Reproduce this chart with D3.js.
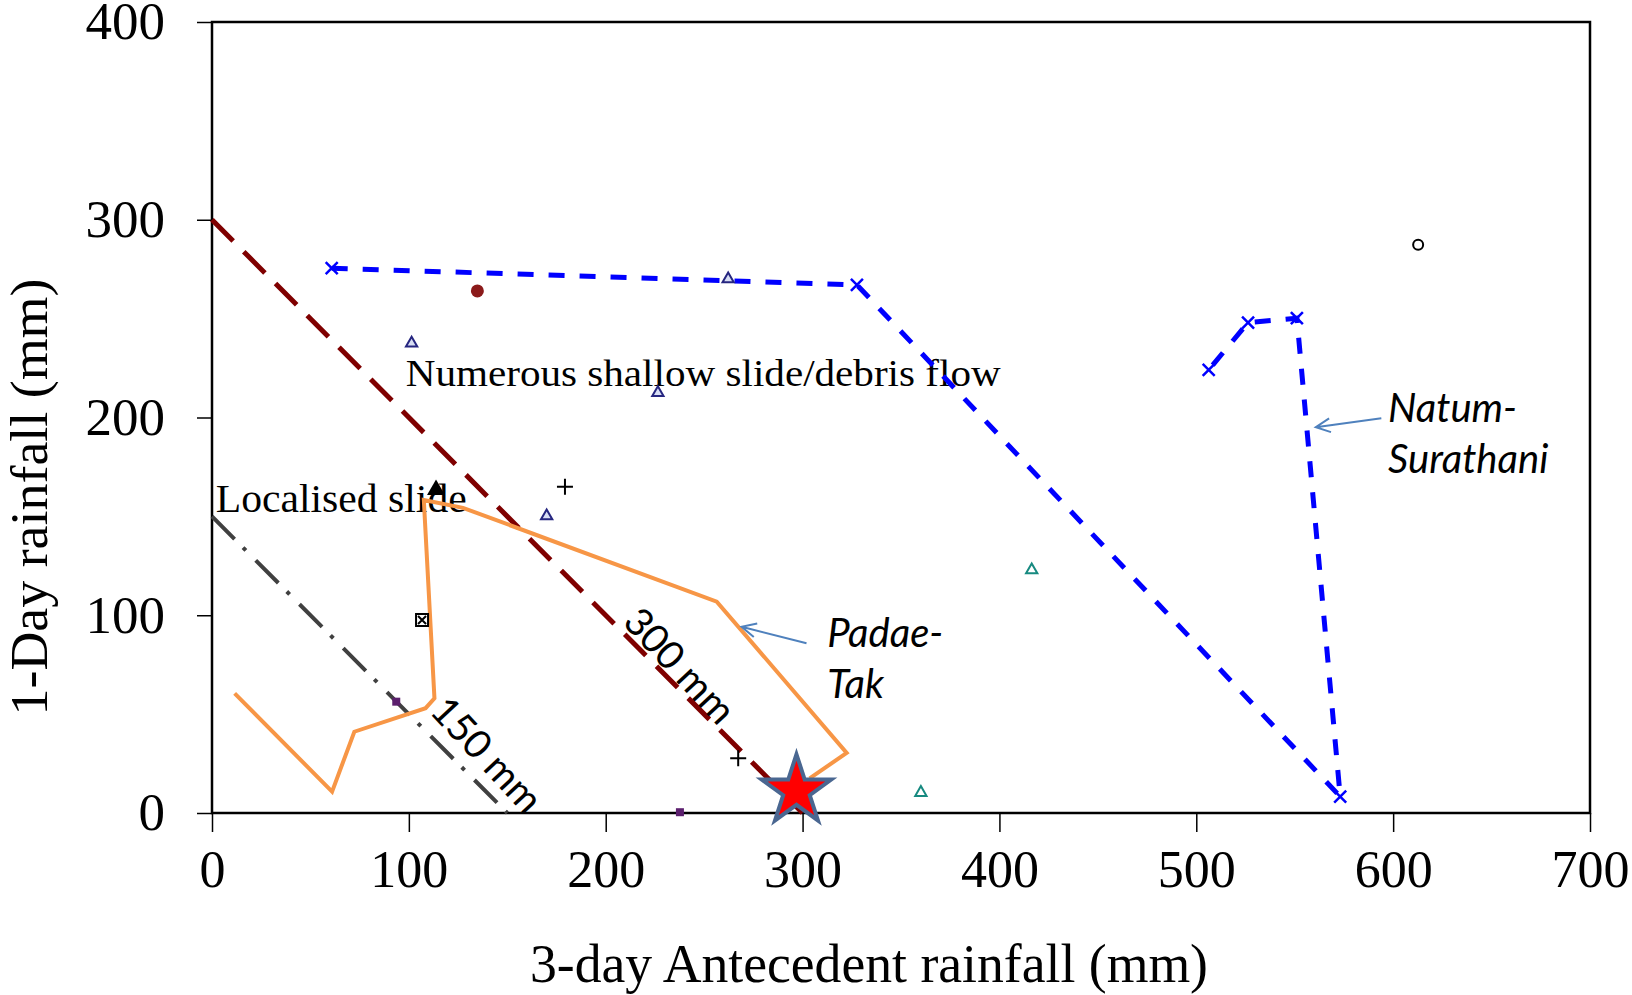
<!DOCTYPE html>
<html>
<head>
<meta charset="utf-8">
<script src="https://d3js.org/d3.v7.min.js"></script>
<style>
    body { margin: 0; background: #fff; }
    .axis path { display: none; }
    .axis line { stroke: #000; stroke-width: 1.5; }
    .axis text { font-family: "Liberation Serif", "Times New Roman", serif; fill: #000; }
    .serif { font-family: "Liberation Serif", "Times New Roman", serif; fill: #000; }
    .sans { font-family: Lato, "Open Sans", sans-serif; fill: #000; }
</style>
</head>
<body>
<div id="chart"></div>
<script>
    // x = 3-day antecedent rainfall (mm), y = 1-day rainfall (mm)
    var natumX = [60.8, 327.6, 573.1, 551.1, 526.3, 506.3];
    var natumY = [275.5, 267.1, 8.3, 250.2, 248.0, 224.1];

    var padaeX = [11.5, 61.0, 72.3, 108.5, 113.0, 107.6, 127.5, 256.4, 322.4, 303.6];
    var padaeY = [60.5, 10.8, 41.1, 53.0, 58.0, 158.3, 154.3, 106.9, 30.4, 17.5];

    var navyTriX = [101.4, 226.5, 170.0, 262.2];
    var navyTriY = [237.6, 212.5, 150.2, 270.0];
    var tealTriX = [416.4, 360.1];
    var tealTriY = [122.9, 10.3];
    var redDotX = [134.8], redDotY = [264.0];
    var openCircX = [612.7], openCircY = [287.3];
    var plusX = [179.3, 267.3], plusY = [165.0, 27.7];
    var blackTriX = [113.8], blackTriY = [163.4];
    var boxXX = [106.7], boxXY = [97.6];
    var purpleX = [93.6, 237.7], purpleY = [56.3, 0.4];
    var starX = [296.9], starY = [11.2];

    var thresholds = [300, 150];
    var thresholdLabels = ["300 mm", "150 mm"];

    var xTicks = [0, 100, 200, 300, 400, 500, 600, 700];
    var yTicks = [0, 100, 200, 300, 400];

    var w = 1632, h = 995;
    var margin = {top: 22, right: 42, bottom: 182, left: 212};

    var xScale = d3.scaleLinear().domain([0, 700]).range([margin.left, w - margin.right]);
    var yScale = d3.scaleLinear().domain([0, 400]).range([h - margin.bottom, margin.top]);

    var svg = d3.select("#chart").append("svg").attr("width", w).attr("height", h);

    function zip(xs, ys) { return xs.map(function(x, i) { return [x, ys[i]]; }); }

    // axes
    var xAxis = d3.axisBottom(xScale).tickValues(xTicks).tickSize(19).tickSizeOuter(0).tickPadding(18);
    var yAxis = d3.axisLeft(yScale).tickValues(yTicks).tickSize(15).tickSizeOuter(0).tickPadding(32);

    svg.append("g").attr("class", "axis")
        .attr("transform", "translate(0," + yScale(0) + ")")
        .call(xAxis)
        .selectAll("text").style("font-size", "52px");

    svg.append("g").attr("class", "axis")
        .attr("transform", "translate(" + xScale(0) + ",0)")
        .call(yAxis)
        .selectAll("text").style("font-size", "53px");

    // frame
    svg.append("rect")
        .attr("x", xScale(0)).attr("y", yScale(400))
        .attr("width", xScale(700) - xScale(0))
        .attr("height", yScale(0) - yScale(400))
        .style("fill", "none").style("stroke", "#000").style("stroke-width", 2.5);

    // axis titles
    svg.append("text").attr("class", "serif")
        .attr("x", 869).attr("y", 982)
        .attr("text-anchor", "middle")
        .attr("textLength", 678).attr("lengthAdjust", "spacingAndGlyphs")
        .style("font-size", "54px")
        .text("3-day Antecedent rainfall (mm)");

    svg.append("text").attr("class", "serif")
        .attr("transform", "translate(47,497) rotate(-90)")
        .attr("text-anchor", "middle")
        .attr("textLength", 437).attr("lengthAdjust", "spacingAndGlyphs")
        .style("font-size", "53px")
        .text("1-Day rainfall (mm)");

    // annotation text (under the lines)
    svg.append("text").attr("class", "serif")
        .attr("x", xScale(98.4)).attr("y", yScale(216.0))
        .attr("textLength", 595).attr("lengthAdjust", "spacingAndGlyphs")
        .style("font-size", "38px")
        .text("Numerous shallow slide/debris flow");

    svg.append("text").attr("class", "serif")
        .attr("x", xScale(1.9)).attr("y", yScale(152.4))
        .attr("textLength", 251).attr("lengthAdjust", "spacingAndGlyphs")
        .style("font-size", "40px")
        .text("Localised slide");

    // threshold lines x + y = t
    var tStyles = [
        {color: "#7f0000", dash: "30,15", width: 5},
        {color: "#404040", dash: "32,12,4,14", width: 4}
    ];
    thresholds.forEach(function(t, i) {
        svg.append("line")
            .attr("x1", xScale(0)).attr("y1", yScale(t))
            .attr("x2", xScale(t)).attr("y2", yScale(0))
            .style("stroke", tStyles[i].color)
            .style("stroke-width", tStyles[i].width)
            .style("stroke-dasharray", tStyles[i].dash);
    });

    // threshold labels along the lines
    var tLabelPos = [[208, 96], [110, 51]];
    thresholdLabels.forEach(function(lab, i) {
        svg.append("text").attr("class", "sans")
            .attr("transform", "translate(" + xScale(tLabelPos[i][0]) + "," + yScale(tLabelPos[i][1]) + ") rotate(47)")
            .style("font-size", "39px")
            .text(lab);
    });

    var line = d3.line()
        .x(function(d) { return xScale(d[0]); })
        .y(function(d) { return yScale(d[1]); });

    // Padae-Tak
    svg.append("path").datum(zip(padaeX, padaeY))
        .attr("d", line)
        .style("fill", "none").style("stroke", "#f79646").style("stroke-width", 4)
        .style("stroke-linejoin", "miter");

    // Natum-Surathani
    svg.append("path").datum(zip(natumX, natumY))
        .attr("d", line)
        .style("fill", "none").style("stroke", "#0000ff").style("stroke-width", 5)
        .style("stroke-dasharray", "16,15");

    // natum x markers
    var xs = 6;
    svg.selectAll(".natx").data(zip(natumX, natumY)).enter().append("path")
        .attr("class", "natx")
        .attr("d", function(d) {
            var cx = xScale(d[0]), cy = yScale(d[1]);
            return "M" + (cx - xs) + "," + (cy - xs) + "L" + (cx + xs) + "," + (cy + xs) +
                   "M" + (cx - xs) + "," + (cy + xs) + "L" + (cx + xs) + "," + (cy - xs);
        })
        .style("stroke", "#0000ff").style("stroke-width", 2.5);

    // triangles
    var triSmall = d3.symbol().type(d3.symbolTriangle).size(55);
    svg.selectAll(".navytri").data(zip(navyTriX, navyTriY)).enter().append("path")
        .attr("class", "navytri")
        .attr("transform", function(d) { return "translate(" + xScale(d[0]) + "," + yScale(d[1]) + ")"; })
        .attr("d", triSmall)
        .style("fill", "#d8def4").style("stroke", "#262680").style("stroke-width", 2);

    svg.selectAll(".tealtri").data(zip(tealTriX, tealTriY)).enter().append("path")
        .attr("class", "tealtri")
        .attr("transform", function(d) { return "translate(" + xScale(d[0]) + "," + yScale(d[1]) + ")"; })
        .attr("d", triSmall)
        .style("fill", "#ffffff").style("stroke", "#178a80").style("stroke-width", 2);

    svg.selectAll(".blacktri").data(zip(blackTriX, blackTriY)).enter().append("path")
        .attr("class", "blacktri")
        .attr("transform", function(d) { return "translate(" + xScale(d[0]) + "," + yScale(d[1]) + ")"; })
        .attr("d", d3.symbol().type(d3.symbolTriangle).size(140))
        .style("fill", "#000");

    // circles
    svg.selectAll(".reddot").data(zip(redDotX, redDotY)).enter().append("circle")
        .attr("class", "reddot")
        .attr("cx", function(d) { return xScale(d[0]); })
        .attr("cy", function(d) { return yScale(d[1]); })
        .attr("r", 6.5).style("fill", "#8b1a1a");

    svg.selectAll(".opencirc").data(zip(openCircX, openCircY)).enter().append("circle")
        .attr("class", "opencirc")
        .attr("cx", function(d) { return xScale(d[0]); })
        .attr("cy", function(d) { return yScale(d[1]); })
        .attr("r", 5).style("fill", "#fff").style("stroke", "#000").style("stroke-width", 2);

    // plus markers
    var ps = 8;
    svg.selectAll(".plus").data(zip(plusX, plusY)).enter().append("path")
        .attr("class", "plus")
        .attr("d", function(d) {
            var cx = xScale(d[0]), cy = yScale(d[1]);
            return "M" + (cx - ps) + "," + cy + "L" + (cx + ps) + "," + cy +
                   "M" + cx + "," + (cy - ps) + "L" + cx + "," + (cy + ps);
        })
        .style("stroke", "#000").style("stroke-width", 2);

    // boxed x marker
    var bs = 6;
    var boxG = svg.selectAll(".boxx").data(zip(boxXX, boxXY)).enter().append("g")
        .attr("class", "boxx")
        .attr("transform", function(d) { return "translate(" + xScale(d[0]) + "," + yScale(d[1]) + ")"; });
    boxG.append("rect").attr("x", -bs).attr("y", -bs).attr("width", 2 * bs).attr("height", 2 * bs)
        .style("fill", "#fff").style("stroke", "#000").style("stroke-width", 2);
    boxG.append("path").attr("d", "M-4,-4L4,4M-4,4L4,-4").style("stroke", "#000").style("stroke-width", 2);

    // purple squares
    svg.selectAll(".purple").data(zip(purpleX, purpleY)).enter().append("rect")
        .attr("class", "purple")
        .attr("x", function(d) { return xScale(d[0]) - 4; })
        .attr("y", function(d) { return yScale(d[1]) - 4; })
        .attr("width", 8).attr("height", 8)
        .style("fill", "#5c1f6e");

    // star
    svg.selectAll(".star").data(zip(starX, starY)).enter().append("path")
        .attr("class", "star")
        .attr("transform", function(d) { return "translate(" + xScale(d[0]) + "," + yScale(d[1]) + ")"; })
        .attr("d", d3.symbol().type(d3.symbolStar).size(1500))
        .style("fill", "#ff0000").style("stroke", "#4a6791").style("stroke-width", 4)
        .style("stroke-linejoin", "miter");

    // series labels with arrows
    var seriesLabels = [
        {lines: ["Padae-", "Tak"], x: 312.5, y: 84.1, from: [302.0, 85.8], to: [269.0, 94.2]},
        {lines: ["Natum-", "Surathani"], x: 597.4, y: 197.9, from: [594.0, 199.6], to: [560.7, 195.1]}
    ];
    seriesLabels.forEach(function(s) {
        var t = svg.append("text").attr("class", "sans")
            .style("font-size", "40px").style("font-style", "italic");
        s.lines.forEach(function(l, i) {
            t.append("tspan").attr("x", xScale(s.x)).attr("y", yScale(s.y) + i * 51).text(l);
        });
        var x1 = xScale(s.from[0]), y1 = yScale(s.from[1]);
        var x2 = xScale(s.to[0]), y2 = yScale(s.to[1]);
        var ang = Math.atan2(y2 - y1, x2 - x1);
        var hl = 16, ha = 0.45;
        svg.append("path")
            .attr("d", "M" + x1 + "," + y1 + "L" + x2 + "," + y2 +
                "M" + (x2 - hl * Math.cos(ang - ha)) + "," + (y2 - hl * Math.sin(ang - ha)) +
                "L" + x2 + "," + y2 +
                "L" + (x2 - hl * Math.cos(ang + ha)) + "," + (y2 - hl * Math.sin(ang + ha)))
            .style("fill", "none").style("stroke", "#4f81bd").style("stroke-width", 2);
    });
</script>
</body>
</html>
